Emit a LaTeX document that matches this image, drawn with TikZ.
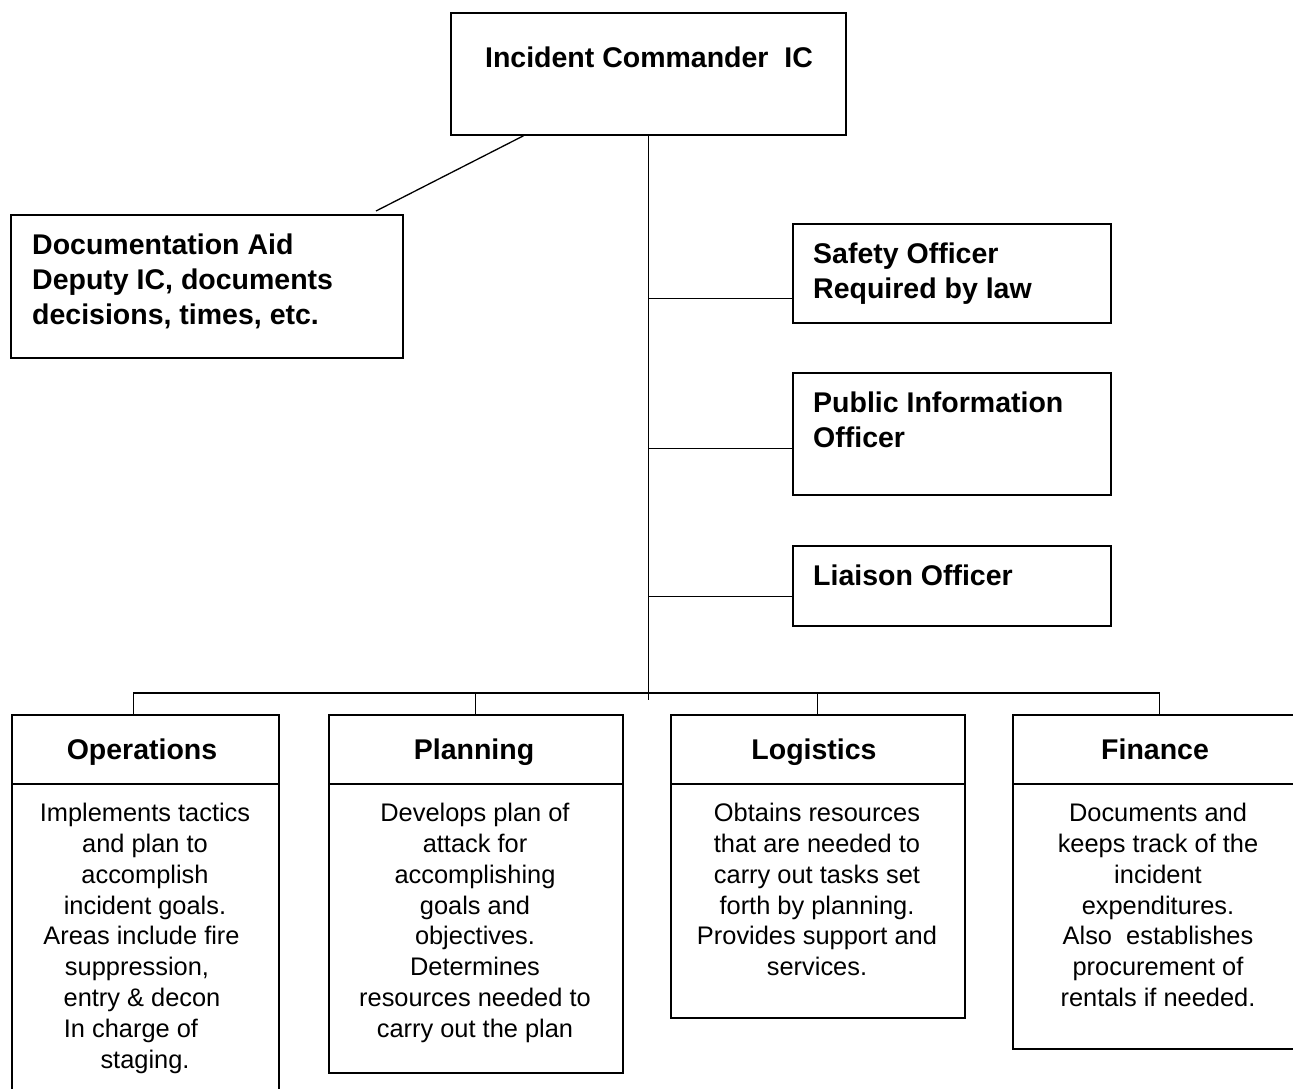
\documentclass[tikz,border=0pt]{standalone}
\usepackage{fontspec}
\setmainfont{Liberation Sans}
\begin{document}
\begin{tikzpicture}[x=1pt,y=-1pt,
  box/.style={draw, line width=1.6pt, rectangle, inner sep=0pt, anchor=north west},
  btxt/.style={font=\bfseries\fontsize{28.5}{35}\selectfont, inner sep=0pt, align=left, anchor=north west},
  ttl/.style={font=\bfseries\fontsize{28.5}{35}\selectfont, inner sep=0pt, anchor=base},
  body/.style={font=\fontsize{25.4}{30.8}\selectfont, inner sep=0pt, align=center, anchor=north},
  link/.style={line width=1.3pt}]
\useasboundingbox (0,0) rectangle (1293,1088);
\clip (0,0) rectangle (1293,1088);
% top boxes
\node[box, minimum width=395pt, minimum height=122pt] (ic) at (450,12) {};
\node[ttl] (ict) at (649,67) {Incident Commander~~IC};
\node[box, minimum width=392pt, minimum height=143pt] (doc) at (10,214) {};
\node[btxt] (doct) at (32,234) {Documentation Aid\\Deputy IC, documents\\decisions, times, etc.};
\node[box, minimum width=318pt, minimum height=99pt] (saf) at (792,223) {};
\node[btxt] (saft) at (813,243) {Safety Officer\\Required by law};
\node[box, minimum width=318pt, minimum height=122pt] (pio) at (792,372) {};
\node[btxt] (piot) at (813,392) {Public Information\\Officer};
\node[box, minimum width=318pt, minimum height=80pt] (lia) at (792,545) {};
\node[btxt] (liat) at (813,565) {Liaison Officer};
% bottom boxes
\node[box, minimum width=267pt, minimum height=69pt] (opsh) at (11,714) {};
\node[box, minimum width=267pt, minimum height=330pt] (opsb) at (11,783) {};
\node[box, minimum width=294pt, minimum height=69pt] (plah) at (328,714) {};
\node[box, minimum width=294pt, minimum height=289pt] (plab) at (328,783) {};
\node[box, minimum width=294pt, minimum height=69pt] (logh) at (670,714) {};
\node[box, minimum width=294pt, minimum height=234pt] (logb) at (670,783) {};
\node[box, minimum width=294pt, minimum height=69pt] (finh) at (1012,714) {};
\node[box, minimum width=294pt, minimum height=265pt] (finb) at (1012,783) {};
\node[ttl] (opst) at (142,759) {Operations};
\node[ttl] (plat) at (474,759) {Planning};
\node[ttl] (logt) at (814,759) {Logistics};
\node[ttl] (fint) at (1155,759) {Finance};
\node[body] (opsx) at (145,803) {Implements tactics\\and plan to\\accomplish\\incident goals.\\Areas include fire\rule{7pt}{0pt}\\suppression,\rule{16pt}{0pt}\\entry \& decon\rule{6pt}{0pt}\\In charge of\rule{28pt}{0pt}\\staging.};
\node[body] (plax) at (475,803) {Develops plan of\\attack for\\accomplishing\\goals and\\objectives.\\Determines\\resources needed to\\carry out the plan};
\node[body] (logx) at (817,803) {Obtains resources\\that are needed to\\carry out tasks set\\forth by planning.\\Provides support and\\services.};
\node[body] (finx) at (1158,803) {Documents and\\keeps track of the\\incident\\expenditures.\\Also~~establishes\\procurement of\\rentals if needed.};
% connectors
\coordinate (docend) at (376,211);
\coordinate (spinebase) at (0,700);
\coordinate (bus) at (0,693);
\draw[link] ([xshift=-124.5pt]ic.south) -- (docend);
\draw[link] (ic.south) -- (ic.south |- spinebase);
\draw[link] ([yshift=25pt]saf.south west) -- ([yshift=25pt]saf.south west -| ic.south);
\draw[link] ([yshift=47pt]pio.south west) -- ([yshift=47pt]pio.south west -| ic.south);
\draw[link] ([yshift=30pt]lia.south west) -- ([yshift=30pt]lia.south west -| ic.south);
\draw[link] ([xshift=-11.5pt]opsh.north) -- ([xshift=-11.5pt]opsh.north |- bus) -- (finh.north |- bus) -- (finh.north);
\draw[link] (plah.north) -- (plah.north |- bus);
\draw[link] (logh.north) -- (logh.north |- bus);
\end{tikzpicture}
\end{document}
